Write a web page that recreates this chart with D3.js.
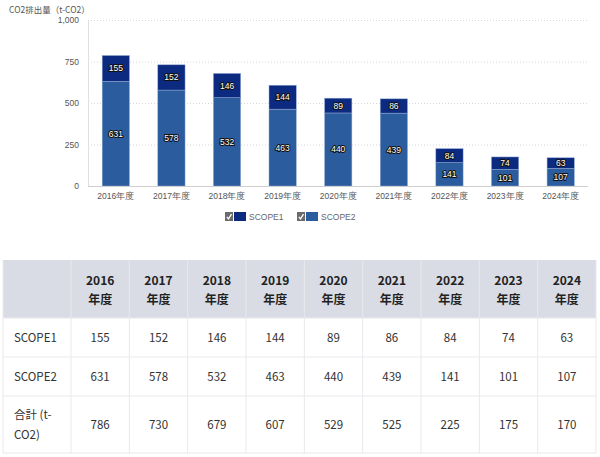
<!DOCTYPE html>
<html>
<head>
<meta charset="utf-8">
<script src="https://cdnjs.cloudflare.com/ajax/libs/d3/7.8.5/d3.min.js"></script>
<style>
  body { margin: 0; background: #fff; }
  svg { display: block; }
</style>
</head>
<body>
<div id="chart"></div>
<script>
// chart data
const years = ["2016", "2017", "2018", "2019", "2020", "2021", "2022", "2023", "2024"];
const scope1 = [155, 152, 146, 144, 89, 86, 84, 74, 63];
const scope2 = [631, 578, 532, 463, 440, 439, 141, 101, 107];
const totals = [786, 730, 679, 607, 529, 525, 225, 175, 170];
const yTicks = [0, 250, 500, 750, 1000];
const seriesNames = ["SCOPE1", "SCOPE2"];
const colors = { SCOPE1: "#0c2a80", SCOPE2: "#2a5c9e" };

const W = 600, H = 457;
const margin = { top: 20, left: 88, right: 12 };
const plotBottom = 186;

const svg = d3.select("#chart").append("svg")
    .attr("width", W)
    .attr("height", H)
    .style("font-family", "'Noto Sans CJK JP', 'Noto Sans', sans-serif");

const rows = years.map((y, i) => ({ year: y, SCOPE1: scope1[i], SCOPE2: scope2[i] }));
const stacked = d3.stack().keys(["SCOPE2", "SCOPE1"])(rows);

const x = d3.scaleBand()
    .domain(years)
    .range([margin.left, 588.5])
    .paddingInner(0.51)
    .paddingOuter(0.255);

const y = d3.scaleLinear()
    .domain([0, 1000])
    .range([plotBottom, margin.top]);

// gridlines
svg.append("g")
    .selectAll("line")
    .data(yTicks.filter(d => d > 0))
    .join("line")
    .attr("x1", margin.left)
    .attr("x2", 588)
    .attr("y1", d => y(d) + 0.5)
    .attr("y2", d => y(d) + 0.5)
    .attr("stroke", "#d6d6d6")
    .attr("stroke-dasharray", "1,2");

// y axis
const yAxis = d3.axisLeft(y).tickValues(yTicks).tickSize(0).tickPadding(9)
    .tickFormat(d3.format(","));
const gy = svg.append("g")
    .attr("transform", "translate(" + margin.left + ",0)")
    .call(yAxis);
gy.select(".domain").attr("stroke", "#e0e0e0");
gy.selectAll("text").attr("font-size", 8.5).attr("fill", "#555")
    .style("font-family", "'Liberation Sans', Arial, sans-serif");

// y axis title
svg.append("text")
    .attr("x", 9)
    .attr("y", 13)
    .attr("font-size", 8.5)
    .attr("fill", "#555")
    .text("CO2排出量（t-CO2）");

// bars
const layer = svg.selectAll(".layer")
    .data(stacked)
    .join("g")
    .attr("class", "layer")
    .attr("fill", d => colors[d.key]);

layer.selectAll("rect")
    .data(d => d)
    .join("rect")
    .attr("x", d => x(d.data.year))
    .attr("width", x.bandwidth())
    .attr("y", d => y(d[1]))
    .attr("height", d => y(d[0]) - y(d[1]))
    .attr("stroke", "#8fa9d3")
    .attr("stroke-width", 0.5);

// bar labels
layer.selectAll("text")
    .data(d => d.map(v => ({ v: v, key: d.key })))
    .join("text")
    .attr("x", d => x(d.v.data.year) + x.bandwidth() / 2)
    .attr("y", d => (y(d.v[0]) + y(d.v[1])) / 2 + 3)
    .attr("text-anchor", "middle")
    .attr("font-size", 8.5)
    .attr("fill", "#fff")
    .attr("stroke", "#111")
    .attr("stroke-width", 2)
    .attr("stroke-linejoin", "round")
    .attr("paint-order", "stroke")
    .style("font-family", "'Liberation Sans', Arial, sans-serif")
    .text(d => d.v.data[d.key]);

// baseline + x axis
const xAxis = d3.axisBottom(x).tickSize(0).tickPadding(7).tickFormat(d => d + "年度");
const gx = svg.append("g")
    .attr("transform", "translate(0," + plotBottom + ")")
    .call(xAxis);
gx.select(".domain").attr("stroke", "#cfcfcf").attr("d", "M" + margin.left + ",0.5H588");
gx.selectAll("text").attr("font-size", 8.5).attr("fill", "#555");

// legend
const legend = svg.append("g")
    .selectAll("g")
    .data(seriesNames)
    .join("g")
    .attr("transform", (d, i) => "translate(" + (225 + i * 72) + ",212)");

legend.append("rect")
    .attr("width", 8).attr("height", 9)
    .attr("fill", "#6b6b6b");
legend.append("path")
    .attr("d", "M1.8,4.8 L3.5,6.8 L6.5,2.2")
    .attr("fill", "none")
    .attr("stroke", "#fff")
    .attr("stroke-width", 1.3);
legend.append("rect")
    .attr("x", 9).attr("width", 12).attr("height", 9)
    .attr("fill", d => colors[d]);
legend.append("text")
    .attr("x", 24).attr("y", 8)
    .attr("font-size", 8.5)
    .attr("fill", "#666")
    .style("font-family", "'Liberation Sans', Arial, sans-serif")
    .text(d => d);

// table
const tTop = 260, tLeft = 3, tRight = 596;
const firstColW = 68;
const colW = (tRight - tLeft - firstColW) / years.length;
const rowEdges = [260, 318, 357, 396, 453];
const tableRows = [
    { label: ["SCOPE1"], vals: scope1 },
    { label: ["SCOPE2"], vals: scope2 },
    { label: ["合計 (t-", "CO2)"], vals: totals }
];

const table = svg.append("g").attr("fill", "#333");

table.append("rect")
    .attr("x", tLeft).attr("y", rowEdges[0])
    .attr("width", tRight - tLeft).attr("height", rowEdges[1] - rowEdges[0])
    .attr("fill", "#d9dce4");

// grid lines of table
const colEdges = [tLeft, tLeft + firstColW].concat(years.map((d, i) => tLeft + firstColW + colW * (i + 1)));
table.selectAll(".vline")
    .data(colEdges)
    .join("line")
    .attr("x1", d => d).attr("x2", d => d)
    .attr("y1", rowEdges[0]).attr("y2", rowEdges[4])
    .attr("stroke", "#e8e9ec")
    .attr("stroke-width", 1);
table.selectAll(".hline")
    .data(rowEdges.slice(1))
    .join("line")
    .attr("x1", tLeft).attr("x2", tRight)
    .attr("y1", d => d).attr("y2", d => d)
    .attr("stroke", "#e8e9ec")
    .attr("stroke-width", 1);

// header
const head = table.selectAll(".head")
    .data(years)
    .join("text")
    .attr("x", (d, i) => tLeft + firstColW + colW * (i + 0.5))
    .attr("text-anchor", "middle")
    .attr("font-size", 12)
    .attr("font-weight", "bold")
    .attr("fill", "#222");
head.append("tspan").attr("y", 285).text(d => d);
head.append("tspan")
    .attr("x", (d, i) => tLeft + firstColW + colW * (i + 0.5))
    .attr("y", 303.5).text("年度");

// body
tableRows.forEach((r, ri) => {
    const yc = (rowEdges[ri + 1] + rowEdges[ri + 2]) / 2;
    const lab = table.append("text")
        .attr("x", 14)
        .attr("font-size", 11.5)
        .attr("fill", "#333");
    r.label.forEach((t, li) => {
        lab.append("tspan")
            .attr("x", 14)
            .attr("y", yc + 4 + (li - (r.label.length - 1) / 2) * 20)
            .text(t);
    });
    table.selectAll(".v" + ri)
        .data(r.vals)
        .join("text")
        .attr("x", (d, i) => tLeft + firstColW + colW * (i + 0.5))
        .attr("y", yc + 4)
        .attr("text-anchor", "middle")
        .attr("font-size", 11.5)
        .attr("fill", "#333")
        .text(d => d);
});
</script>
</body>
</html>
